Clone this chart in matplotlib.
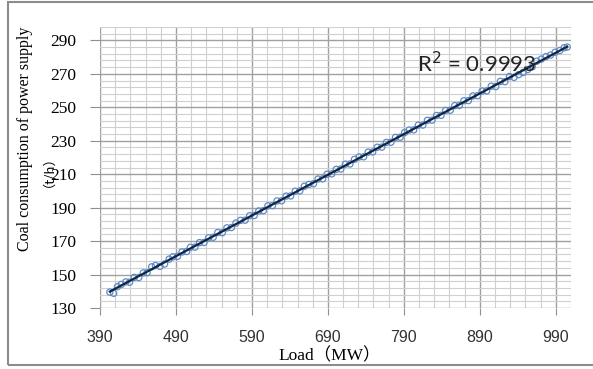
import numpy as np
import matplotlib
matplotlib.use("Agg")
import matplotlib.pyplot as plt
from matplotlib.patches import Rectangle

# load (MW) and coal consumption (t/h)
load = [403, 408, 413, 418, 424, 429, 435, 441, 447, 452, 458, 463, 469, 475, 481, 486,
        492, 498, 504, 509, 515, 521, 527, 533, 539, 545, 551, 557, 563, 569, 575, 581,
        587, 593, 599, 605, 611, 617, 623, 629, 635, 641, 647, 653, 659, 665, 671, 677,
        683, 689, 695, 701, 707, 713, 719, 725, 731, 737, 743, 749, 755, 761, 767, 773,
        779, 785, 791, 797, 803, 809, 815, 821, 827, 833, 839, 845, 851, 857, 863, 869,
        875, 881, 887, 893, 899, 905, 911, 917, 923, 929, 935, 941, 947, 953, 959, 965,
        971, 977, 983, 989, 995, 1001, 1005]
coal = [139.5, 138.8, 142.8, 144.1, 145.6, 145.4, 148.3, 148.2, 151.0, 151.1, 154.6, 155.4,
        154.9, 156.3, 159.2, 160.6, 160.9, 163.5, 163.8, 166.3, 166.4, 169.1, 169.2, 172.0,
        172.3, 175.1, 175.0, 177.9, 178.1, 180.8, 182.4, 182.5, 185.2, 185.3, 188.0, 188.2,
        191.1, 191.2, 194.0, 194.1, 196.9, 197.0, 199.8, 200.0, 202.8, 203.9, 204.3, 207.1,
        207.2, 210.0, 210.2, 212.9, 213.1, 216.0, 216.1, 218.9, 220.3, 220.4, 223.2, 223.3,
        226.1, 226.2, 229.0, 229.1, 232.0, 232.1, 234.9, 236.4, 236.5, 239.3, 239.4, 242.2,
        242.3, 245.1, 245.2, 248.1, 248.2, 251.0, 251.1, 253.9, 254.0, 256.8, 256.9, 259.7,
        259.8, 262.6, 262.4, 265.5, 265.3, 268.4, 267.9, 269.5, 270.8, 272.6, 274.2, 277.6,
        278.8, 280.3, 281.2, 282.9, 283.9, 285.6, 286.0]

x_ticks = [390, 490, 590, 690, 790, 890, 990]
y_ticks = [130, 150, 170, 190, 210, 230, 250, 270, 290]
r2_text = "R$^2$ = 0.9993"

W, H = 593, 369
fig = plt.figure(figsize=(W / 100, H / 100), dpi=100)
fig.patches.append(Rectangle((8 / W, 4 / H), 1, 363 / H, transform=fig.transFigure,
                             fill=False, edgecolor="#8c8c8c", lw=1.5))
ax = fig.add_axes([100 / W, 1 - 308 / H, 471 / W, 281 / H])

ax.set_xlim(390, 1010)
ax.set_ylim(130, 298)
ax.set_xticks(x_ticks)
ax.set_yticks(y_ticks)
ax.set_xticks(np.arange(390, 1011, 20), minor=True)
ax.set_yticks(np.arange(130, 299, 4), minor=True)
ax.grid(which="minor", color="#d0d0d0", lw=0.8)
ax.grid(which="major", color="#a0a0a0", lw=1.0)
ax.set_axisbelow(True)
for s in ax.spines.values():
    s.set_visible(False)

ax.tick_params(which="minor", length=0)
ax.tick_params(axis="y", which="major", length=7, color="#909090", pad=10)
ax.tick_params(axis="x", which="major", length=5, color="#909090", pad=11)
for lab in ax.get_yticklabels():
    lab.set_fontfamily("Liberation Serif")
    lab.set_fontsize(12.5)
for lab in ax.get_xticklabels():
    lab.set_fontfamily("Liberation Sans")
    lab.set_fontsize(11.5)
    lab.set_color("#333333")

ax.scatter(load, coal, s=20, facecolors="none", edgecolors="#5b8cc8", linewidths=0.9, zorder=3)
k, b = np.polyfit(load, coal, 1)
xl = np.array([min(load), max(load)])
ax.plot(xl, k * xl + b, color="#15233f", lw=1.6, zorder=4)

ax.text(807, 276, r2_text, fontsize=16, family="Lato", color="#222222",
        va="center", ha="left", zorder=5)

fig.text(25 / W, 1 - 139 / H, "Coal consumption of power supply", rotation=90,
         ha="center", va="center", fontsize=11.5, family="Liberation Serif")
fig.text(42 / W, 1 - 165 / H, "（t/h）", rotation=90, ha="center", va="center",
         fontsize=9.5, family="Noto Sans CJK SC")
fig.text(330 / W, 1 - 356 / H, "Load（MW）", ha="center", va="center",
         fontsize=12.5, family=["Liberation Serif", "Noto Sans CJK SC"])

fig.savefig("out.png", dpi=100)
